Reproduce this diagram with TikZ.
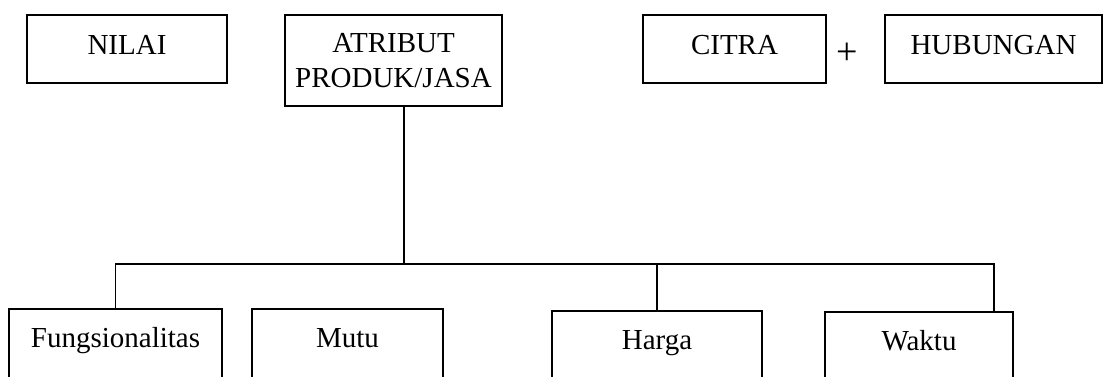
\documentclass[tikz,border=0pt]{standalone}
\usepackage{fontspec}
\setmainfont{Liberation Serif}
\begin{document}
\begin{tikzpicture}[x=0.5pt, y=-0.5pt, line width=0.8pt,
    box/.style={draw, rectangle, anchor=north, inner xsep=2pt, inner ysep=4pt,
      font=\fontsize{14.5}{17.5}\selectfont},
    topbox/.style={box, text height=16pt, text depth=10pt},
    lowbox/.style={box, text height=15.5pt, text depth=60pt}]
  \useasboundingbox (0,0) rectangle (1106,376);
  % top row
  \node[topbox, minimum width=100pt] (nilai) at (127,14) {NILAI};
  \node[box, minimum width=108.5pt, minimum height=45.5pt, align=center] (atribut) at (393.5,14) {ATRIBUT\\PRODUK/JASA};
  \node[topbox, minimum width=91.5pt] (citra) at (734.5,14) {CITRA};
  \node[font=\fontsize{19}{20}\selectfont] (plus) at (847,54) {+};
  \node[topbox, minimum width=108.5pt] (hubungan) at (993.5,14) {HUBUNGAN};
  % bottom row
  \node[lowbox, minimum width=106.5pt] (fungsi) at (115.5,308) {Fungsionalitas};
  \node[lowbox, minimum width=95.5pt] (mutu) at (347.5,308) {Mutu};
  \node[lowbox, minimum width=105pt] (harga) at (657,310) {Harga};
  \node[lowbox, minimum width=94pt] (waktu) at (919,311) {Waktu};
  % tree lines
  \coordinate (hub) at (404,264);
  \coordinate (busR) at (994,264);
  \draw (atribut.south -| hub) -- (hub);
  \draw (fungsi.north) |- (busR) -- (waktu.north -| busR);
  \draw (harga.north) -- (harga.north |- busR);
\end{tikzpicture}
\end{document}
